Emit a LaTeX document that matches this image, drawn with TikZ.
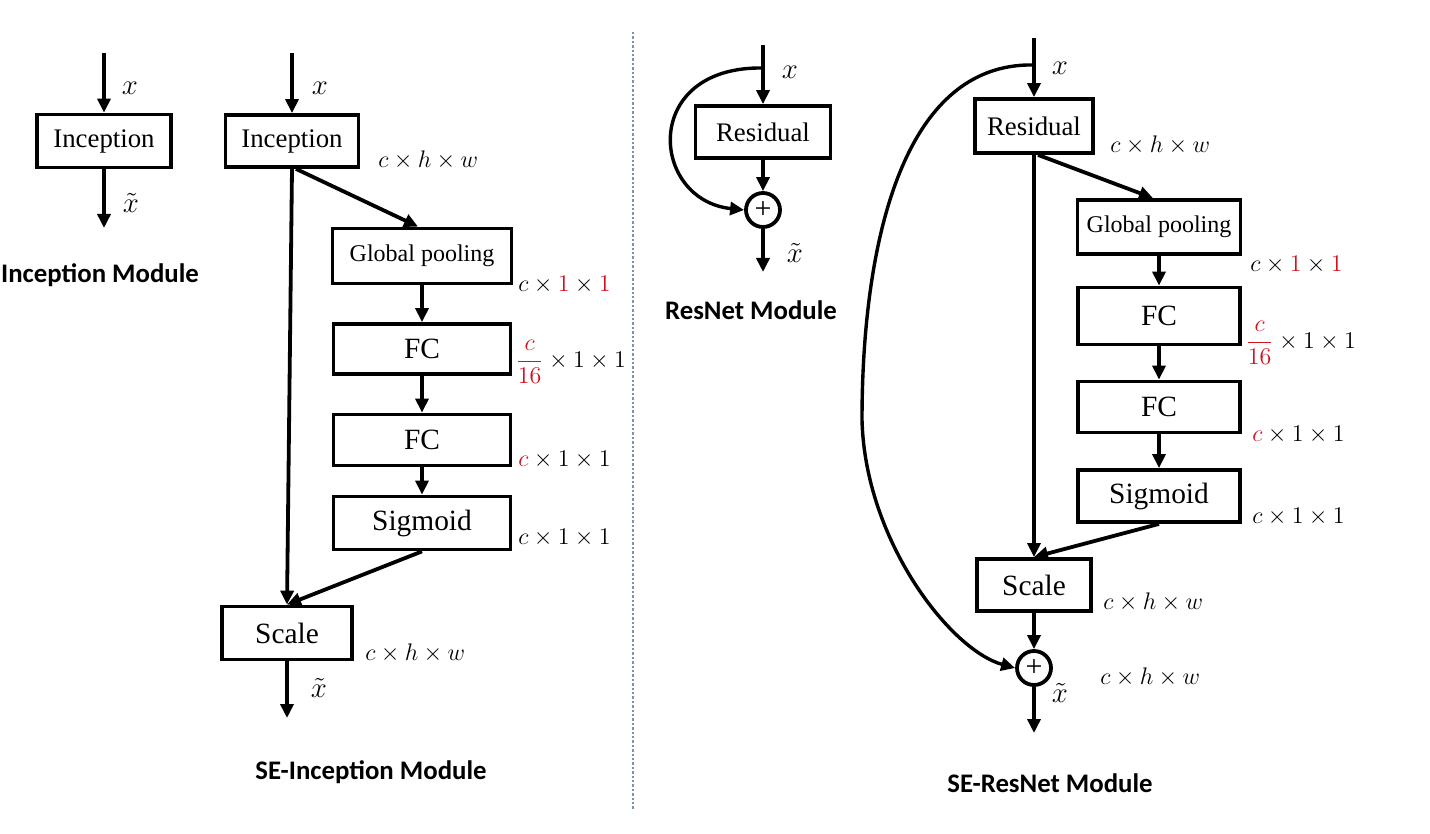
\documentclass[tikz,border=0pt]{standalone}
\usepackage{amsmath}
\usepackage{fontspec}
\setmainfont{Liberation Serif}
\newfontfamily\capfont{Carlito}
\usetikzlibrary{arrows.meta,positioning}
\definecolor{sered}{RGB}{208,18,30}
\definecolor{divgray}{RGB}{125,145,180}
\newcommand{\rd}[1]{\textcolor{sered}{#1}}
\newcommand{\fbig}{\fontsize{14.7}{16}\selectfont}
\newcommand{\fmid}{\fontsize{13.4}{15}\selectfont}
\newcommand{\fsml}{\fontsize{12}{14}\selectfont}

\begin{document}
\begin{tikzpicture}[
  x=0.5pt, y=-0.5pt,
  box/.style 2 args={draw, line width=1.9pt, inner sep=0pt,
    minimum width={#1*0.5pt}, minimum height={#2*0.5pt}},
  sum/.style={draw, circle, line width=1.9pt, inner sep=0pt, minimum size=17pt,
    font=\fontsize{15}{15}\selectfont},
  arr/.style={-{Triangle[length=7pt,width=6.5pt]}, line width=1.9pt},
  skiparr/.style={-{Triangle[length=7pt,width=6.5pt]}, line width=1.7pt},
  dim/.style={anchor=west, inner sep=0pt, font=\fsml},
  var/.style={inner sep=0pt, font=\fontsize{14}{16}\selectfont},
  title/.style={inner sep=0pt, font=\capfont\bfseries\fontsize{13.4}{16}\selectfont}
]
  \useasboundingbox (0,0) rectangle (1430,834);

  % Inception module
  \coordinate (in1) at (104,53);
  \coordinate (out1) at (104,228);
  \node[box={134}{53}, font=\fmid] (inc) at (104,141) {Inception};
  \draw[arr] (in1) -- (inc);
  \draw[arr] (inc) -- (out1);
  \node[var] at (130,88) {$x$};
  \node[var] at (131,203) {$\tilde{x}$};
  \node[title] at (100,275) {Inception Module};

  % SE-Inception module
  \coordinate (in2) at (292,53);
  \coordinate (out2) at (287,718);
  \node[box={133}{52}, font=\fmid] (seinc) at (292,141) {Inception};
  \node[box={179}{55}, font=\fsml] (gp1) at (422,256) {Global pooling};
  \node[box={177}{50}, font=\fbig] (fc1a) at (422,349) {FC};
  \node[box={177}{51}, font=\fbig] (fc1b) at (422,440) {FC};
  \node[box={177}{53}, font=\fbig] (sig1) at (422,523) {Sigmoid};
  \node[box={130}{53}, font=\fbig] (scl1) at (287,633) {Scale};
  \draw[arr] (in2) -- (seinc);
  \draw[arr] (seinc.south) -- (scl1.north);
  \draw[arr] ([xshift=2pt]seinc.south) -- ([xshift=-2pt]gp1.north);
  \draw[arr] (gp1) -- (fc1a);
  \draw[arr] (fc1a) -- (fc1b);
  \draw[arr] (fc1b) -- (sig1);
  \draw[arr] (sig1.south) -- (scl1.north);
  \draw[arr] (scl1) -- (out2);
  \node[var] at (320,88) {$x$};
  \node[var] at (319,688) {$\tilde{x}$};
  \node[dim] at (378,160) {$c\times h\times w$};
  \node[dim] at (518,285) {$c\times\rd{1}\times\rd{1}$};
  \node[dim] at (515,362) {$\rd{\dfrac{c}{16}}\times 1\times 1$};
  \node[dim] at (518,460) {$\rd{c}\times 1\times 1$};
  \node[dim] at (518,538) {$c\times 1\times 1$};
  \node[dim] at (365,653) {$c\times h\times w$};
  \node[title] at (371,772) {SE-Inception Module};

  \draw[divgray, line width=0.7pt, dash pattern=on 1.2pt off 1pt] (633,32) -- (633,810);

  % ResNet module
  \coordinate (in3) at (763,45);
  \coordinate (br3) at (763,68);
  \coordinate (out3) at (763,272);
  \node[box={135}{52}, font=\fmid] (res) at (763,132) {Residual};
  \node[sum] (add1) at (763,210) {+};
  \draw[arr] (in3) -- (res);
  \draw[arr] (res) -- (add1);
  \draw[arr] (add1) -- (out3);
  \draw[skiparr] (br3) .. controls (640,66) and (650,200) .. (add1.west);
  \node[var] at (790,72) {$x$};
  \node[var] at (795,253) {$\tilde{x}$};
  \node[title] at (751,310) {ResNet Module};

  % SE-ResNet module
  \coordinate (in4) at (1034,38);
  \coordinate (br4) at (1034,65);
  \coordinate (out4) at (1034,733);
  \node[box={118}{54}, font=\fmid] (seres) at (1034,126) {Residual};
  \node[box={163}{54}, font=\fsml] (gp2) at (1159,227) {Global pooling};
  \node[box={162}{57}, font=\fbig] (fc2a) at (1159,316) {FC};
  \node[box={162}{51}, font=\fbig] (fc2b) at (1159,407) {FC};
  \node[box={162}{52}, font=\fbig] (sig2) at (1159,496) {Sigmoid};
  \node[box={114}{52}, font=\fbig] (scl2) at (1034,585) {Scale};
  \node[sum] (add2) at (1034,668) {+};
  \draw[arr] (in4) -- (seres);
  \draw[arr] (seres) -- (scl2);
  \draw[arr] ([xshift=2pt]seres.south) -- ([xshift=-3pt]gp2.north);
  \draw[arr] (gp2) -- (fc2a);
  \draw[arr] (fc2a) -- (fc2b);
  \draw[arr] (fc2b) -- (sig2);
  \draw[arr] (sig2.south) -- (scl2.north);
  \draw[arr] (scl2) -- (add2);
  \draw[arr] (add2) -- (out4);
  \draw[skiparr] (br4) .. controls (900,62) and (862,250) .. (862,420)
    .. controls (865,540) and (950,650) .. (add2.west);
  \node[var] at (1060,68) {$x$};
  \node[var] at (1060,693) {$\tilde{x}$};
  \node[dim] at (1110,145) {$c\times h\times w$};
  \node[dim] at (1250,265) {$c\times\rd{1}\times\rd{1}$};
  \node[dim] at (1245,343) {$\rd{\dfrac{c}{16}}\times 1\times 1$};
  \node[dim] at (1252,435) {$\rd{c}\times 1\times 1$};
  \node[dim] at (1252,517) {$c\times 1\times 1$};
  \node[dim] at (1103,602) {$c\times h\times w$};
  \node[dim] at (1100,677) {$c\times h\times w$};
  \node[title] at (1050,783) {SE-ResNet Module};
\end{tikzpicture}
\end{document}
